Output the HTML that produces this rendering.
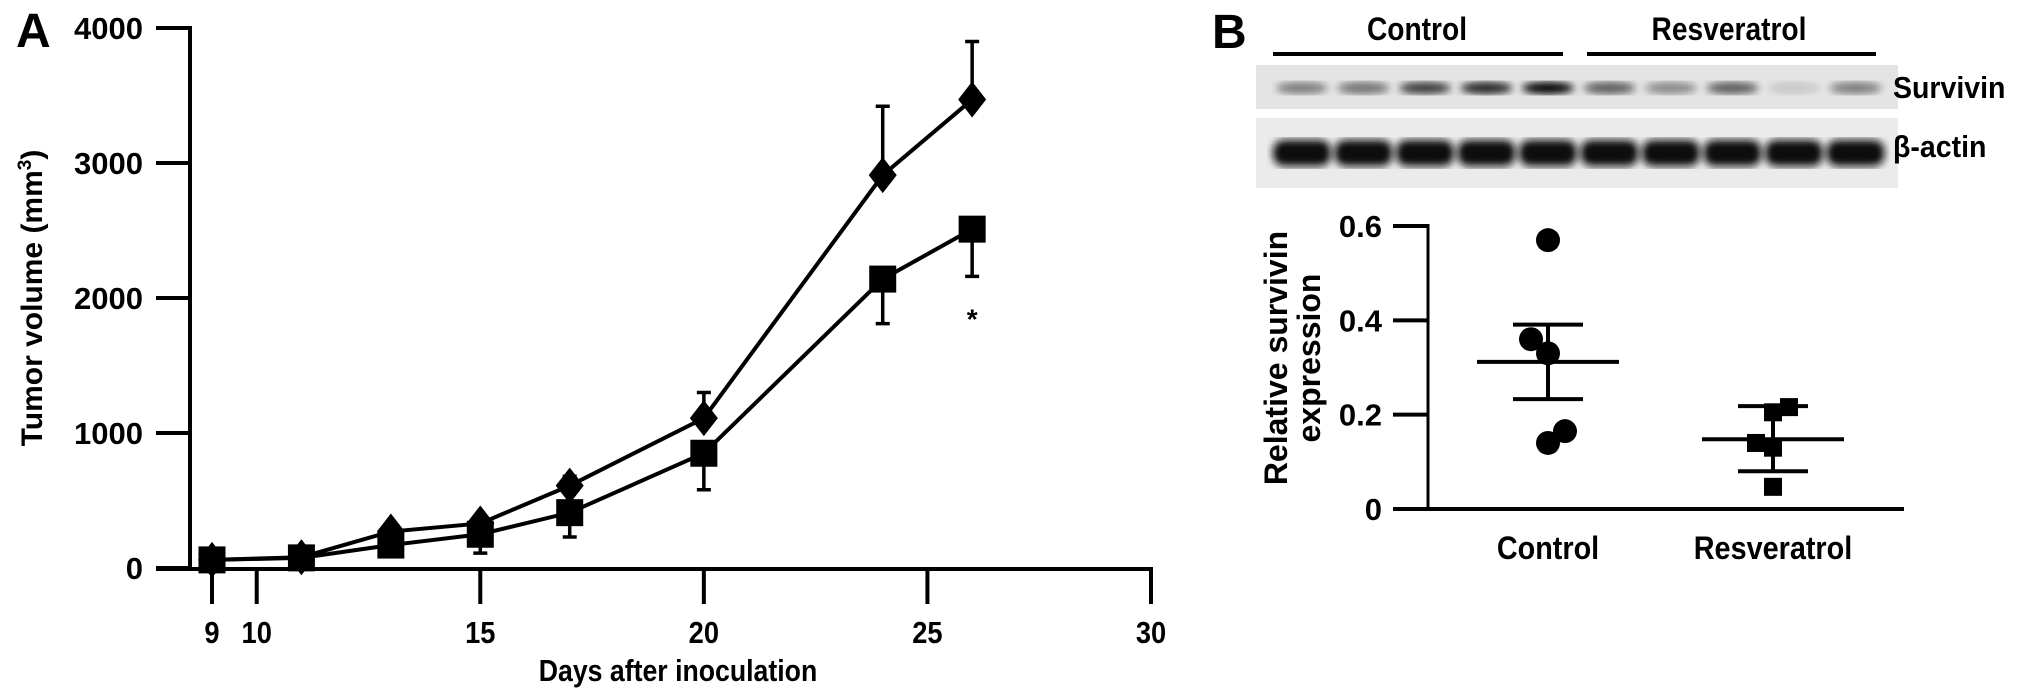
<!DOCTYPE html>
<html><head><meta charset="utf-8"><style>
html,body{margin:0;padding:0;background:#fff}
svg{display:block}
text{font-family:"Liberation Sans",sans-serif;font-weight:bold;fill:#000}
</style></head><body>
<svg id="fig" width="2031" height="700" viewBox="0 0 2031 700" xmlns="http://www.w3.org/2000/svg">
<defs>
<filter id="blur2"><feGaussianBlur stdDeviation="4"/></filter>
</defs>
<g id="panelA"></g>
<g id="panelB"></g>
</svg>
<script>
// Panel A data
const days = [9, 11, 13, 15, 17, 20, 24, 26];
const controlVol = [60, 80, 270, 330, 610, 1110, 2910, 3470];
const controlErrUp = [90, 110, 320, 380, 680, 1300, 3420, 3900];
const resvVol = [60, 75, 170, 250, 410, 850, 2140, 2510];
const resvErrDown = [40, 50, 90, 110, 230, 580, 1810, 2160];
const yTicksA = [0, 1000, 2000, 3000, 4000];
const xTicksA = [9, 10, 15, 20, 25, 30];
// Panel B data
const groups = ["Control", "Resveratrol"];
const controlExpr = [0.57, 0.36, 0.33, 0.14, 0.165];
const resvExpr = [0.205, 0.216, 0.14, 0.13, 0.047];
const groupMean = [0.312, 0.148];
const groupSemLow = [0.233, 0.08];
const groupSemHigh = [0.391, 0.218];
const yTicksB = [0, 0.2, 0.4, 0.6];
const survivinBand = [0.45, 0.5, 0.75, 0.85, 1.0, 0.6, 0.4, 0.6, 0.12, 0.45];

const NS = "http://www.w3.org/2000/svg";
function mk(parent, tag, attrs, txt) {
  const e = document.createElementNS(NS, tag);
  for (const k in attrs) e.setAttribute(k, attrs[k]);
  if (txt !== undefined) e.textContent = txt;
  parent.appendChild(e);
  return e;
}
const A = document.getElementById('panelA');
const xA = d => 212 + (d - 9) * (1151 - 212) / 21;
const yA = v => 568 - v * (568 - 28) / 4000;
const LW = 4;

let t = mk(A, 'text', {x: 16, y: 47, 'font-size': 48});
t.textContent = 'A';



let ax = mk(A, 'line', {x1: 190, y1: 26, x2: 190, y2: 570, stroke: '#000', 'stroke-width': LW});


ax = mk(A, 'line', {x1: 156, y1: 569, x2: 1153, y2: 569, stroke: '#000', 'stroke-width': LW});


yTicksA.forEach(v => {
  const l = mk(A, 'line', {x1: 156, y1: yA(v), x2: 190, y2: yA(v), stroke: '#000', 'stroke-width': LW});
  
  
  const tt = mk(A, 'text', {x: 143, y: yA(v) + 11, 'font-size': 31, 'text-anchor': 'end'}, String(v));
  
  
});
xTicksA.forEach(v => {
  const l = mk(A, 'line', {x1: xA(v), y1: 569, x2: xA(v), y2: 604, stroke: '#000', 'stroke-width': LW});
  
  
  const tt = mk(A, 'text', {x: xA(v), y: 643, 'font-size': 31, 'text-anchor': 'middle', transform: `translate(${xA(v)},0) scale(0.88,1) translate(${-xA(v)},0)`}, String(v));
  
  
});
t = mk(A, 'text', {x: 678, y: 681, 'font-size': 31, 'text-anchor': 'middle', transform: 'translate(678,0) scale(0.86,1) translate(-678,0)'}, 'Days after inoculation');


t = mk(A, 'text', {x: 0, y: 0, 'font-size': 30, 'text-anchor': 'middle', transform: 'translate(42,298) rotate(-90)'});
t.innerHTML = 'Tumor volume (mm<tspan dy="-11" font-size="19">3</tspan><tspan dy="11">)</tspan>';



days.forEach((d, i) => {
  const x = xA(d);
  let e = mk(A, 'path', {d: `M${x},${yA(controlVol[i])}V${yA(controlErrUp[i])}M${x-7},${yA(controlErrUp[i])}H${x+7}`, stroke: '#000', 'stroke-width': 3.5, fill: 'none'});
  
  
  e = mk(A, 'path', {d: `M${x},${yA(resvVol[i])}V${yA(resvErrDown[i])}M${x-7},${yA(resvErrDown[i])}H${x+7}`, stroke: '#000', 'stroke-width': 3.5, fill: 'none'});
  
  
});
let ln = mk(A, 'polyline', {points: days.map((d, i) => xA(d) + ',' + yA(controlVol[i])).join(' '), stroke: '#000', 'stroke-width': LW, fill: 'none'});


ln = mk(A, 'polyline', {points: days.map((d, i) => xA(d) + ',' + yA(resvVol[i])).join(' '), stroke: '#000', 'stroke-width': LW, fill: 'none'});


days.forEach((d, i) => {
  const x = xA(d), y = yA(controlVol[i]);
  let m = mk(A, 'polygon', {points: `${x},${y-18} ${x+14},${y} ${x},${y+18} ${x-14},${y}`, fill: '#000'});
  
  
  const y2 = yA(resvVol[i]);
  m = mk(A, 'rect', {x: x - 13.5, y: y2 - 13.5, width: 27, height: 27, fill: '#000'});
  
  
});
t = mk(A, 'text', {x: xA(26), y: yA(2160) + 52, 'font-size': 28, 'text-anchor': 'middle'}, '*');



// Panel B
const B = document.getElementById('panelB');
t = mk(B, 'text', {x: 1212, y: 48, 'font-size': 48}, 'B');


t = mk(B, 'text', {x: 1417, y: 40, 'font-size': 32, 'text-anchor': 'middle', transform: 'translate(1417,0) scale(0.88,1) translate(-1417,0)'}, 'Control');


t = mk(B, 'text', {x: 1729, y: 40, 'font-size': 32, 'text-anchor': 'middle', transform: 'translate(1729,0) scale(0.88,1) translate(-1729,0)'}, 'Resveratrol');


let gl = mk(B, 'line', {x1: 1273, y1: 54, x2: 1563, y2: 54, stroke: '#000', 'stroke-width': 4});


gl = mk(B, 'line', {x1: 1587, y1: 54, x2: 1876, y2: 54, stroke: '#000', 'stroke-width': 4});


let bl = mk(B, 'rect', {x: 1256, y: 65, width: 642, height: 44, fill: '#e4e4e4'});


bl = mk(B, 'rect', {x: 1256, y: 118, width: 642, height: 70, fill: '#ebebeb'});


survivinBand.forEach((s, i) => {
  const cx = 1302 + i * 61.5;
  let b = mk(B, 'ellipse', {cx: cx, cy: 88, rx: 26, ry: 6, fill: '#000', opacity: s, filter: 'url(#blur2)'});
  
  
  b = mk(B, 'rect', {x: cx - 29, y: 140, width: 58, height: 26, rx: 11, fill: '#111', filter: 'url(#blur2)'});
  
  
});
t = mk(B, 'text', {x: 1893, y: 98, 'font-size': 31, transform: 'translate(1893,0) scale(0.92,1) translate(-1893,0)'}, 'Survivin');


t = mk(B, 'text', {x: 1893, y: 157, 'font-size': 31, transform: 'translate(1893,0) scale(0.92,1) translate(-1893,0)'}, 'β-actin');



const yB = v => 509 - v * (509 - 226) / 0.6;
const xB = i => [1548, 1773][i];
ax = mk(B, 'line', {x1: 1428, y1: 224, x2: 1428, y2: 509, stroke: '#000', 'stroke-width': 3});


ax = mk(B, 'line', {x1: 1393, y1: 509, x2: 1904, y2: 509, stroke: '#000', 'stroke-width': 4});


yTicksB.forEach(v => {
  const l = mk(B, 'line', {x1: 1393, y1: yB(v), x2: 1428, y2: yB(v), stroke: '#000', 'stroke-width': 4});
  
  
  const tt = mk(B, 'text', {x: 1382, y: yB(v) + 11, 'font-size': 31, 'text-anchor': 'end'}, v === 0 ? '0' : v.toFixed(1));
  
  
});
groups.forEach((g, i) => {
  const tt = mk(B, 'text', {x: xB(i), y: 559, 'font-size': 32, 'text-anchor': 'middle', transform: `translate(${xB(i)},0) scale(0.9,1) translate(${-xB(i)},0)`}, g);
  
  
  const x = xB(i);
  let e = mk(B, 'path', {d: `M${x-71},${yB(groupMean[i])}H${x+71}M${x-35},${yB(groupSemLow[i])}H${x+35}M${x-35},${yB(groupSemHigh[i])}H${x+35}M${x},${yB(groupSemLow[i])}V${yB(groupSemHigh[i])}`, stroke: '#000', 'stroke-width': 4, fill: 'none'});
  
  
});
const jitter = [0, -17, 0, 0, 17];
const jitterR = [0, 16, -17, 0, 0];
controlExpr.forEach((v, i) => {
  const c = mk(B, 'circle', {cx: xB(0) + jitter[i], cy: yB(v), r: 12, fill: '#000'});
  
  
});
resvExpr.forEach((v, i) => {
  const x = xB(1) + jitterR[i];
  const r = mk(B, 'rect', {x: x - 9, y: yB(v) - 9, width: 18, height: 18, fill: '#000'});
  
  
});
t = mk(B, 'text', {x: 0, y: 0, 'font-size': 32, 'text-anchor': 'middle', transform: 'translate(1287,358) rotate(-90)'}, 'Relative survivin');


t = mk(B, 'text', {x: 0, y: 0, 'font-size': 32, 'text-anchor': 'middle', transform: 'translate(1320,358) rotate(-90)'}, 'expression');


</script>
</body></html>
